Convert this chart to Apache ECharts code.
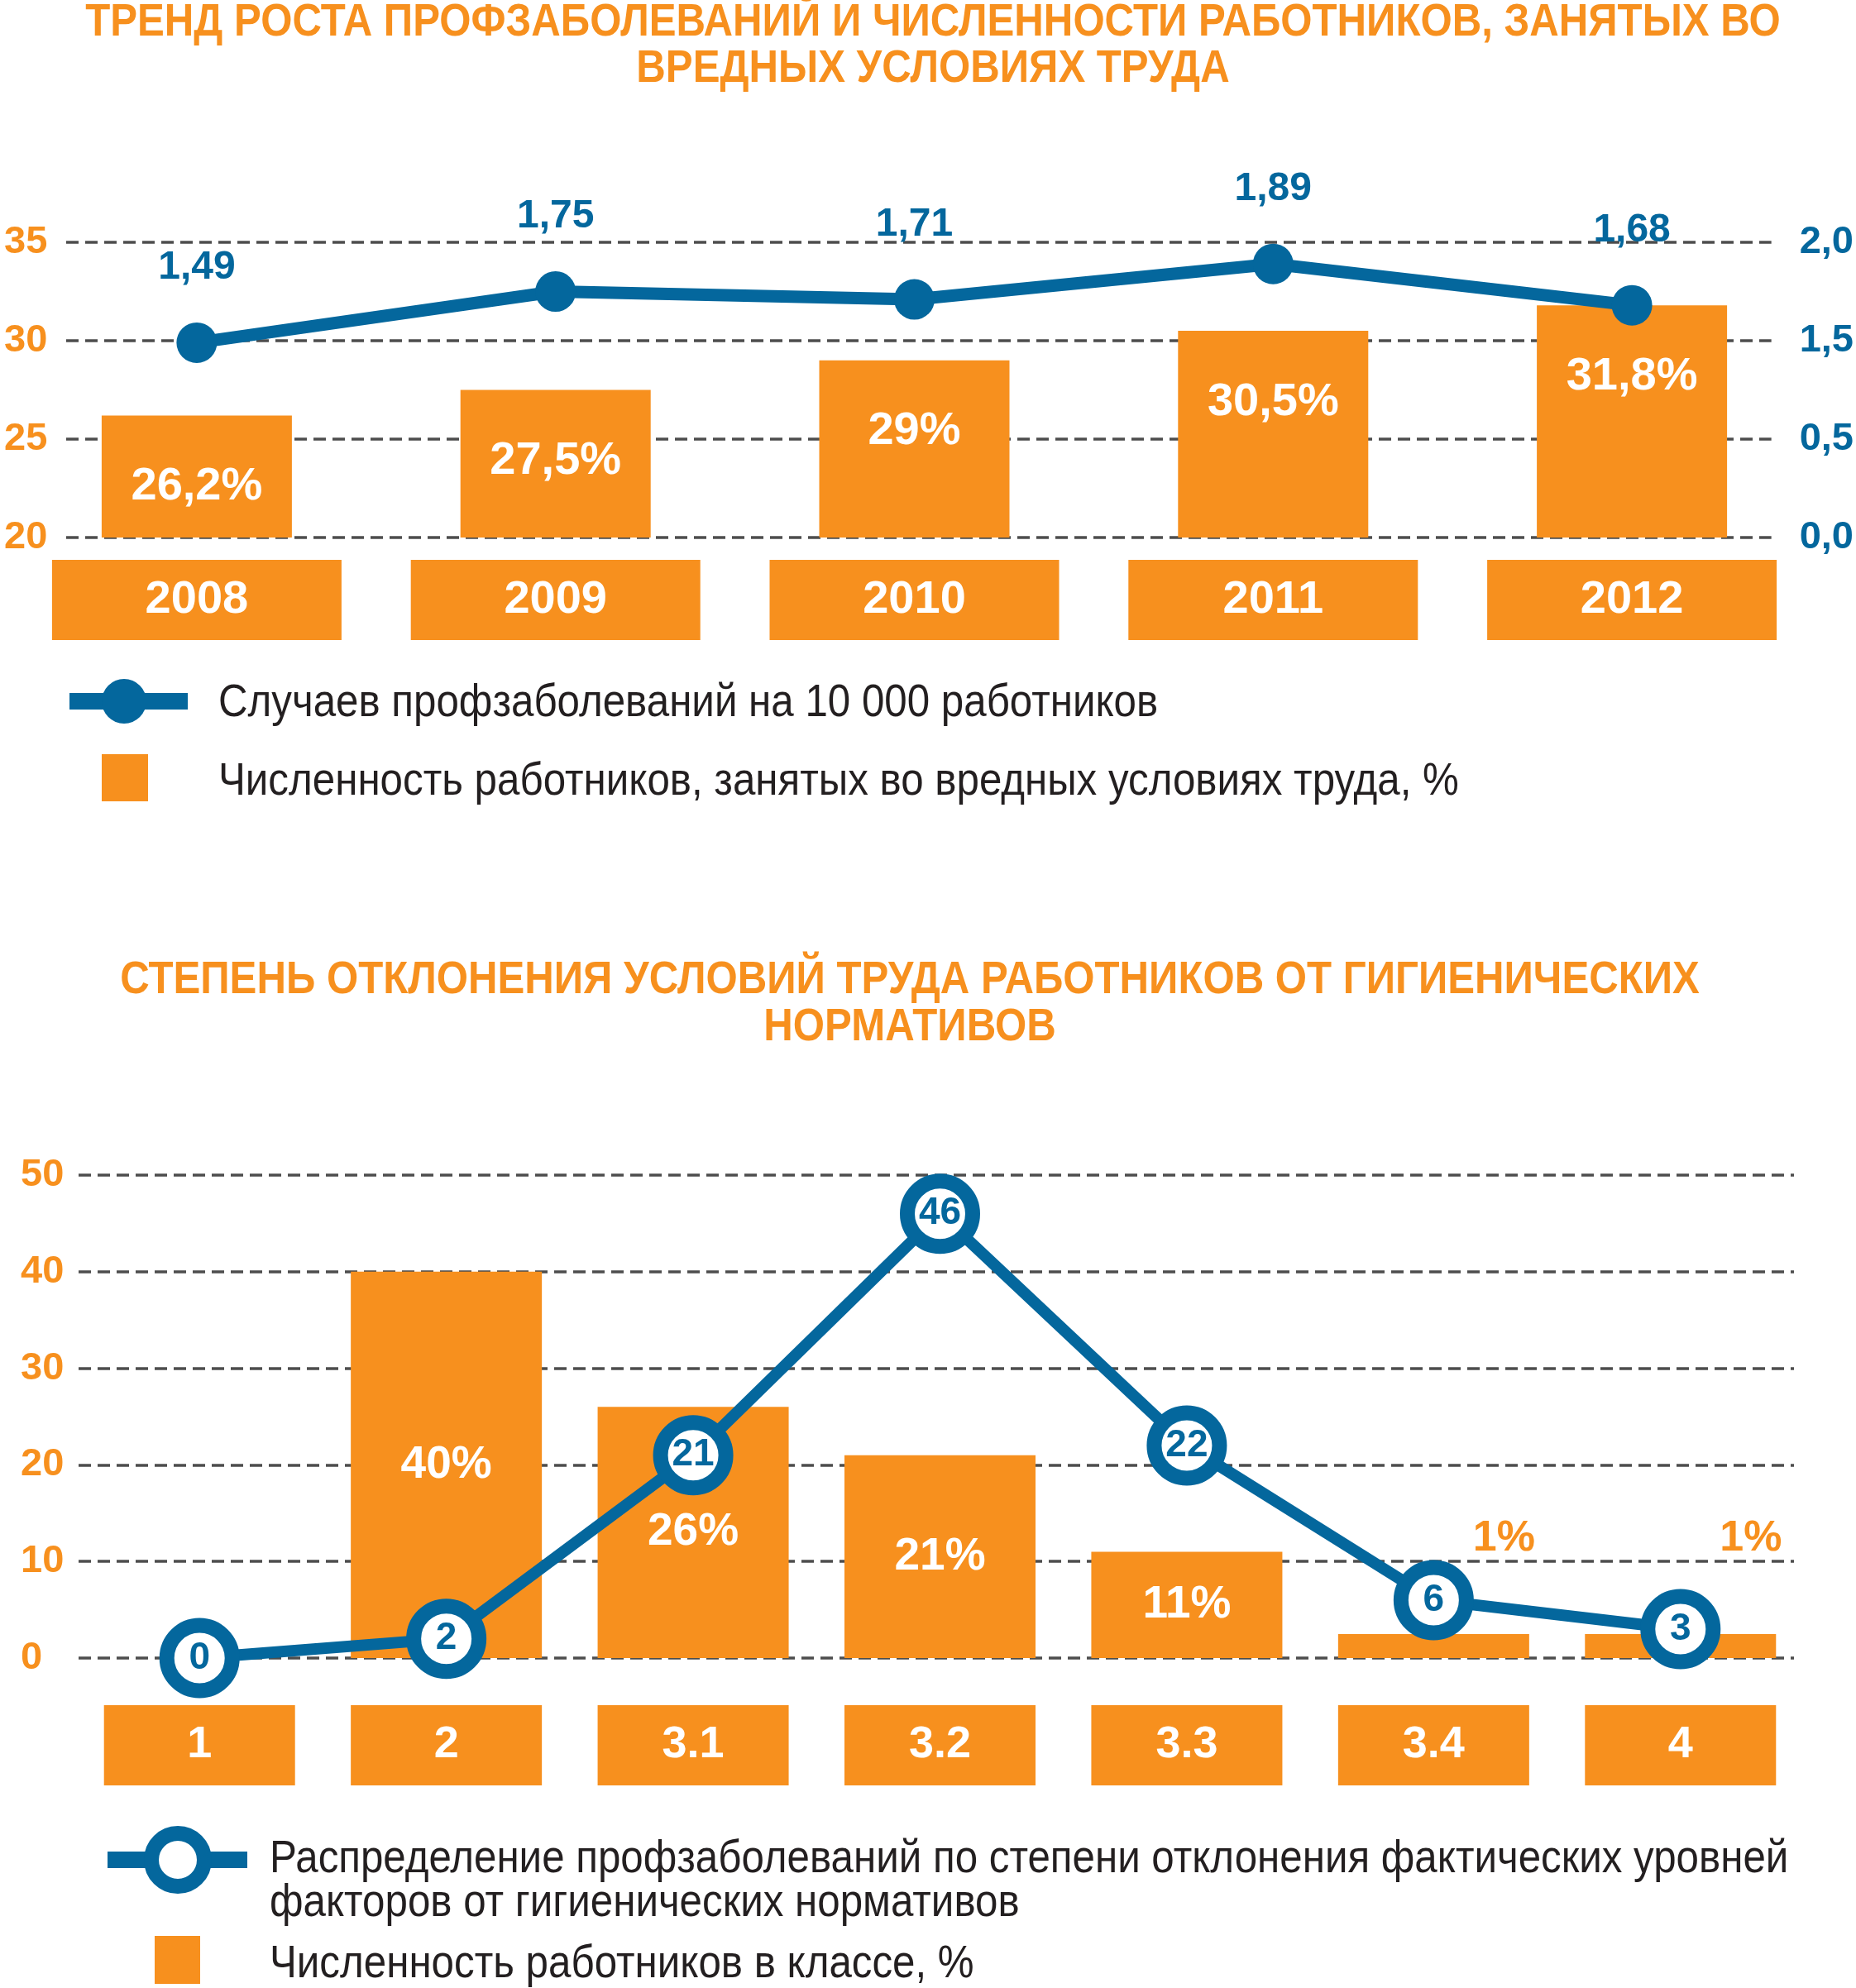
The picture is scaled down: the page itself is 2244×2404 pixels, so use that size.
<!DOCTYPE html>
<html><head><meta charset="utf-8">
<script src="https://cdn.jsdelivr.net/npm/echarts@6/dist/echarts.min.js"></script>
<style>html,body{margin:0;padding:0;background:#fff}#c{width:2244px;height:2404px}</style>
</head><body><div id="c"></div>
<script>
// ---------- data: chart 1 ----------
const years = ['2008', '2009', '2010', '2011', '2012'];
const harmfulShare = [26.2, 27.5, 29, 30.5, 31.8];     // % работников во вредных условиях
const casesPer10k = [1.49, 1.75, 1.71, 1.89, 1.68];    // случаев на 10 000 работников
const leftTicks1 = [20, 25, 30, 35];
const rightTickLabels1 = ['0,0', '0,5', '1,5', '2,0']; // as printed, bottom -> top

// ---------- data: chart 2 ----------
const classes = ['1', '2', '3.1', '3.2', '3.3', '3.4', '4'];
const workersShare = [null, 40, 26, 21, 11, 1, 1];     // % работников в классе
const diseaseDist = [0, 2, 21, 46, 22, 6, 3];          // распределение профзаболеваний
const leftTicks2 = [0, 10, 20, 30, 40, 50];

const title1 = 'ТРЕНД РОСТА ПРОФЗАБОЛЕВАНИЙ И ЧИСЛЕННОСТИ РАБОТНИКОВ, ЗАНЯТЫХ ВО\nВРЕДНЫХ УСЛОВИЯХ ТРУДА';
const title2 = 'СТЕПЕНЬ ОТКЛОНЕНИЯ УСЛОВИЙ ТРУДА РАБОТНИКОВ ОТ ГИГИЕНИЧЕСКИХ\nНОРМАТИВОВ';
const legend1 = ['Случаев профзаболеваний на 10 000 работников', 'Численность работников, занятых во вредных условиях труда, %'];
const legend2 = ['Распределение профзаболеваний по степени отклонения фактических уровней\nфакторов от гигиенических нормативов', 'Численность работников в классе, %'];

// ---------- style ----------
const ORANGE = '#f7901e';
const BLUE = '#04679d';
const GRID = '#4d4d4d';
const TXT = '#231f20';
const FONT = "'Liberation Sans Narrow', 'Arial Narrow', 'Liberation Sans', Arial, sans-serif";
const comma = v => String(v).replace('.', ',');

const dashed = { show: true, lineStyle: { color: GRID, width: 3.5, type: [15, 8] } };

const chart = echarts.init(document.getElementById('c'), null, { renderer: 'canvas' });

const titleText = (text, x, y, lh) => ({
  type: 'text', x: x, y: y, scaleX: 0.878, z: 10,
  style: { text: text, fill: ORANGE, fontSize: 56, fontWeight: 'bold', fontFamily: FONT,
    lineHeight: lh, align: 'center', verticalAlign: 'top' }
});
const legendText = (text, x, y, va) => ({
  type: 'text', x: x, y: y, scaleX: 0.88, z: 10,
  style: { text: text, fill: TXT, fontSize: 56, lineHeight: 53, fontFamily: FONT, align: 'left', verticalAlign: va }
});

const option = {
  backgroundColor: '#fff',
  textStyle: { fontFamily: FONT },
  grid: [
    { left: 80, right: 98, top: 293, height: 357 },   // 0: chart1 gridlines
    { left: 21, right: 54, top: 293, height: 357 },   // 1: chart1 marks
    { left: 95, right: 75, top: 1421, height: 584 },  // 2: chart2 gridlines
    { left: 92, right: 63, top: 1421, height: 584 }   // 3: chart2 marks
  ],
  xAxis: [
    { gridIndex: 0, type: 'value', show: false, min: 0, max: 1 },
    { gridIndex: 1, type: 'category', data: years,
      axisLine: { show: false }, axisTick: { show: false },
      axisLabel: { interval: 0, margin: 27, color: '#fff', fontWeight: 'bold', fontSize: 56, fontFamily: FONT,
        backgroundColor: ORANGE, width: 350, height: 97, lineHeight: 97, align: 'center', verticalAlign: 'top' } },
    { gridIndex: 2, type: 'value', show: false, min: 0, max: 1 },
    { gridIndex: 3, type: 'category', data: classes,
      axisLine: { show: false }, axisTick: { show: false },
      axisLabel: { interval: 0, margin: 57, color: '#fff', fontWeight: 'bold', fontSize: 54, fontFamily: FONT,
        backgroundColor: ORANGE, width: 231, height: 97, lineHeight: 97, align: 'center', verticalAlign: 'top' } }
  ],
  yAxis: [
    { gridIndex: 0, type: 'value', min: leftTicks1[0], max: leftTicks1[leftTicks1.length - 1], interval: 5,
      axisLine: { show: false }, axisTick: { show: false }, splitLine: dashed,
      axisLabel: { align: 'left', margin: 75, color: ORANGE, fontWeight: 'bold', fontSize: 47, fontFamily: FONT } },
    { gridIndex: 0, type: 'value', position: 'right', min: 0.5, max: 2.0, interval: 0.5,
      axisLine: { show: false }, axisTick: { show: false }, splitLine: { show: false },
      axisLabel: { align: 'left', margin: 34, color: BLUE, fontWeight: 'bold', fontSize: 47, fontFamily: FONT,
        formatter: v => rightTickLabels1[Math.round((v - 0.5) / 0.5)] } },
    { gridIndex: 1, type: 'value', min: 20, max: 35, show: false, splitLine: { show: false } },
    { gridIndex: 1, type: 'value', min: 0.5, max: 2.0, show: false, splitLine: { show: false } },
    { gridIndex: 2, type: 'value', min: leftTicks2[0], max: leftTicks2[leftTicks2.length - 1], interval: 10,
      axisLine: { show: false }, axisTick: { show: false }, splitLine: dashed,
      axisLabel: { align: 'left', margin: 70, color: ORANGE, fontWeight: 'bold', fontSize: 47, fontFamily: FONT } },
    { gridIndex: 3, type: 'value', min: 0, max: 50, show: false, splitLine: { show: false } }
  ],
  series: [
    { type: 'bar', xAxisIndex: 1, yAxisIndex: 2, data: harmfulShare, barWidth: 230, z: 2,
      itemStyle: { color: ORANGE },
      label: { show: true, position: 'insideTop', distance: 58, color: '#fff', fontWeight: 'bold', fontSize: 56,
        fontFamily: FONT, formatter: p => comma(p.value) + '%' } },
    { type: 'line', xAxisIndex: 1, yAxisIndex: 3, data: casesPer10k, z: 5,
      lineStyle: { color: BLUE, width: 15 }, itemStyle: { color: BLUE },
      symbol: 'circle', symbolSize: 49, showAllSymbol: true,
      label: { show: true, position: 'top', distance: 42, color: BLUE, fontWeight: 'bold', fontSize: 48,
        fontFamily: FONT, formatter: p => comma(p.value) } },
    { type: 'bar', xAxisIndex: 3, yAxisIndex: 5, barWidth: 231, barMinHeight: 29, z: 2,
      data: workersShare.map(v => (v !== null && v < 5) ? {
        value: v, label: { position: 'top', color: ORANGE, fontSize: 52, offset: [85, -84] } } : v),
      itemStyle: { color: ORANGE },
      label: { show: true, position: 'inside', color: '#fff', fontWeight: 'bold', fontSize: 55,
        fontFamily: FONT, formatter: p => p.value + '%' } },
    { type: 'line', xAxisIndex: 3, yAxisIndex: 5, data: diseaseDist, z: 5,
      lineStyle: { color: BLUE, width: 14 },
      symbol: 'circle', symbolSize: 79, showAllSymbol: true,
      itemStyle: { color: '#fff', borderColor: BLUE, borderWidth: 18 },
      label: { show: true, position: 'inside', color: BLUE, fontWeight: 'bold', fontSize: 46, fontFamily: FONT } }
  ],
  graphic: [
    titleText(title1, 1128, 0, 56),
    titleText(title2, 1100, 1157, 57),
    // legend 1
    { type: 'line', shape: { x1: 84, y1: 848, x2: 227, y2: 848 }, style: { stroke: BLUE, lineWidth: 20 } },
    { type: 'circle', shape: { cx: 150, cy: 848, r: 27 }, style: { fill: BLUE } },
    legendText(legend1[0], 264, 851, 'middle'),
    { type: 'rect', shape: { x: 123, y: 912, width: 56, height: 57 }, style: { fill: ORANGE } },
    legendText(legend1[1], 264, 946, 'middle'),
    // legend 2
    { type: 'line', shape: { x1: 130, y1: 2249, x2: 299, y2: 2249 }, style: { stroke: BLUE, lineWidth: 20 } },
    { type: 'circle', shape: { cx: 215, cy: 2249, r: 32 }, style: { fill: '#fff', stroke: BLUE, lineWidth: 18 } },
    legendText(legend2[0], 326, 2222, 'top'),
    { type: 'rect', shape: { x: 187, y: 2341, width: 55, height: 58 }, style: { fill: ORANGE } },
    legendText(legend2[1], 326, 2376, 'middle')
  ]
};
chart.setOption(option);
</script></body></html>
